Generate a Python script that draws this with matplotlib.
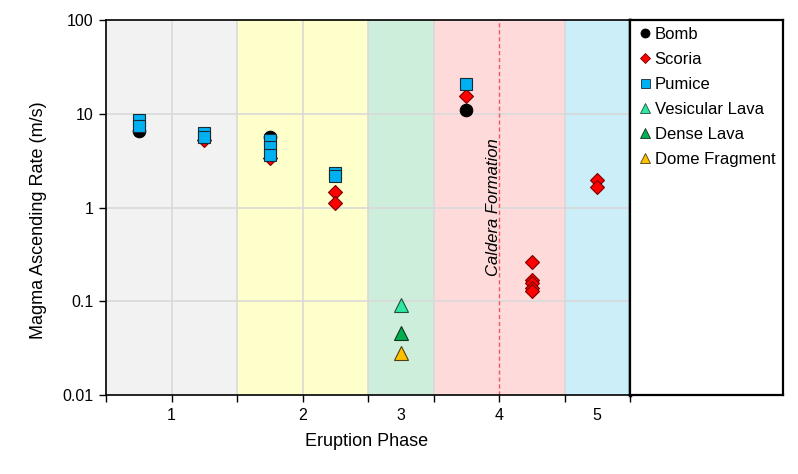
import matplotlib
matplotlib.use("Agg")
import matplotlib.pyplot as plt
from matplotlib.lines import Line2D

plt.rcParams['font.family'] = ['Liberation Sans', 'DejaVu Sans']

# ---- data ----
phase_labels = ["1", "2", "3", "4", "5"]
phase_label_pos = [1, 3, 4.5, 6, 7.5]
band_edges = [(0, 2), (2, 4), (4, 5), (5, 7), (7, 8)]
band_colors = ["#F2F2F2", "#FFFFCC", "#CDEEDB", "#FFDADA", "#CCEEF8"]
vgrid_x = [1, 2, 3, 4, 5, 7]
caldera_x = 6

bomb_x = [0.5, 2.5, 5.5]
bomb_y = [6.5, 5.6, 11.0]

scoria_x = [1.5, 2.5, 3.5, 3.5, 5.5, 6.5, 6.5, 6.5, 6.5, 6.5, 7.5, 7.5]
scoria_y = [5.2, 3.4, 1.48, 1.12, 15.3, 0.26, 0.17, 0.155, 0.14, 0.128, 1.97, 1.66]

pumice_x = [0.5, 0.5, 1.5, 1.5, 2.5, 2.5, 2.5, 3.5, 3.5, 5.5]
pumice_y = [8.5, 7.4, 6.3, 5.6, 5.2, 4.4, 3.6, 2.35, 2.15, 20.7]

vesicular_x = [4.5]
vesicular_y = [0.091]
dense_x = [4.5]
dense_y = [0.046]
dome_x = [4.5]
dome_y = [0.028]

yticks = [0.01, 0.1, 1, 10, 100]
ytick_labels = ["0.01", "0.1", "1", "10", "100"]

# ---- figure ----
W, H = 798, 474
fig = plt.figure(figsize=(W / 100, H / 100), dpi=100)
left, right, top, bottom = 106, 630, 20, 395
ax = fig.add_axes([left / W, 1 - bottom / H, (right - left) / W, (bottom - top) / H])

for (a, b), c in zip(band_edges, band_colors):
    ax.axvspan(a, b, color=c, zorder=0, lw=0)

ax.set_yscale("log")
ax.set_ylim(0.01, 100)
ax.set_xlim(0, 8)

ax.set_yticks(yticks)
ax.set_yticklabels(ytick_labels)
ax.yaxis.set_minor_locator(matplotlib.ticker.NullLocator())
ax.xaxis.remove_overlapping_locs = False
ax.set_xticks(range(0, 9))
ax.set_xticklabels([])
ax.set_xticks(phase_label_pos, minor=True)
ax.set_xticklabels(phase_labels, minor=True)
ax.tick_params(axis="x", which="minor", length=0, pad=9, labelsize=11.5)
ax.tick_params(axis="x", which="major", length=5, width=1, direction="out")
ax.tick_params(axis="y", which="major", length=5, width=1, direction="out", labelsize=11.5, pad=4)

# grid
for yv in yticks[1:-1]:
    ax.axhline(yv, color="#D9D9D9", lw=1.2, zorder=0.5)
for xv in vgrid_x:
    ax.axvline(xv, color="#D9D9D9", lw=1.2, zorder=0.5)

ax.axvline(caldera_x, color="#F05A5A", ls=(0, (3, 2)), lw=1.0, zorder=1)
ax.text(caldera_x - 0.09, 1.0, "Caldera Formation", rotation=90, ha="center", va="center",
        style="italic", fontsize=12, zorder=2)

mk = dict(ls="none", markeredgewidth=0.8, zorder=3)
ax.plot(bomb_x, bomb_y, marker="o", ms=9, color="black", mec="black", label="Bomb", **mk)
ax.plot(scoria_x, scoria_y, marker="D", ms=7, color="#FF0000", mec="#7A0000", label="Scoria", **mk)
ax.plot(pumice_x, pumice_y, marker="s", ms=9, color="#00B0F0", mec="#1A2A35", label="Pumice", **mk)
ax.plot(vesicular_x, vesicular_y, marker="^", ms=9.5, color="#2CE8A0", mec="#205040", label="Vesicular Lava", **mk)
ax.plot(dense_x, dense_y, marker="^", ms=9.5, color="#00B050", mec="#103020", label="Dense Lava", **mk)
ax.plot(dome_x, dome_y, marker="^", ms=9.5, color="#FFC000", mec="#504010", label="Dome Fragment", **mk)

for s in ["left", "bottom", "top"]:
    ax.spines[s].set_linewidth(1.2)
    ax.spines[s].set_color("black")
ax.spines["right"].set_linewidth(2.5)
ax.spines["right"].set_color("black")

ax.set_ylabel("Magma Ascending Rate (m/s)", fontsize=13, va="center")
ax.yaxis.set_label_coords(-0.128, 0.467)
ax.set_xlabel("Eruption Phase", fontsize=13, va="top")
ax.xaxis.set_label_coords(0.497, -0.1)

# legend box
lax = fig.add_axes([right / W, 1 - bottom / H, (783 - right) / W, (bottom - top) / H])
lax.set_xticks([])
lax.set_yticks([])
for s in lax.spines.values():
    s.set_linewidth(1.6)
    s.set_color("black")
handles, labels = ax.get_legend_handles_labels()
leg_handles = []
for h in handles:
    leg_handles.append(Line2D([], [], ls="none", marker=h.get_marker(), ms=h.get_markersize() * 0.72,
                              color=h.get_color(), mec=h.get_mec(), mew=0.6))
lax.legend(leg_handles, labels, loc="upper left", frameon=False, fontsize=12,
           handlelength=0.6, handletextpad=0.3, labelspacing=0.6,
           borderaxespad=0.0, bbox_to_anchor=(0.02, 1.0))

fig.savefig("out.png", dpi=100)
